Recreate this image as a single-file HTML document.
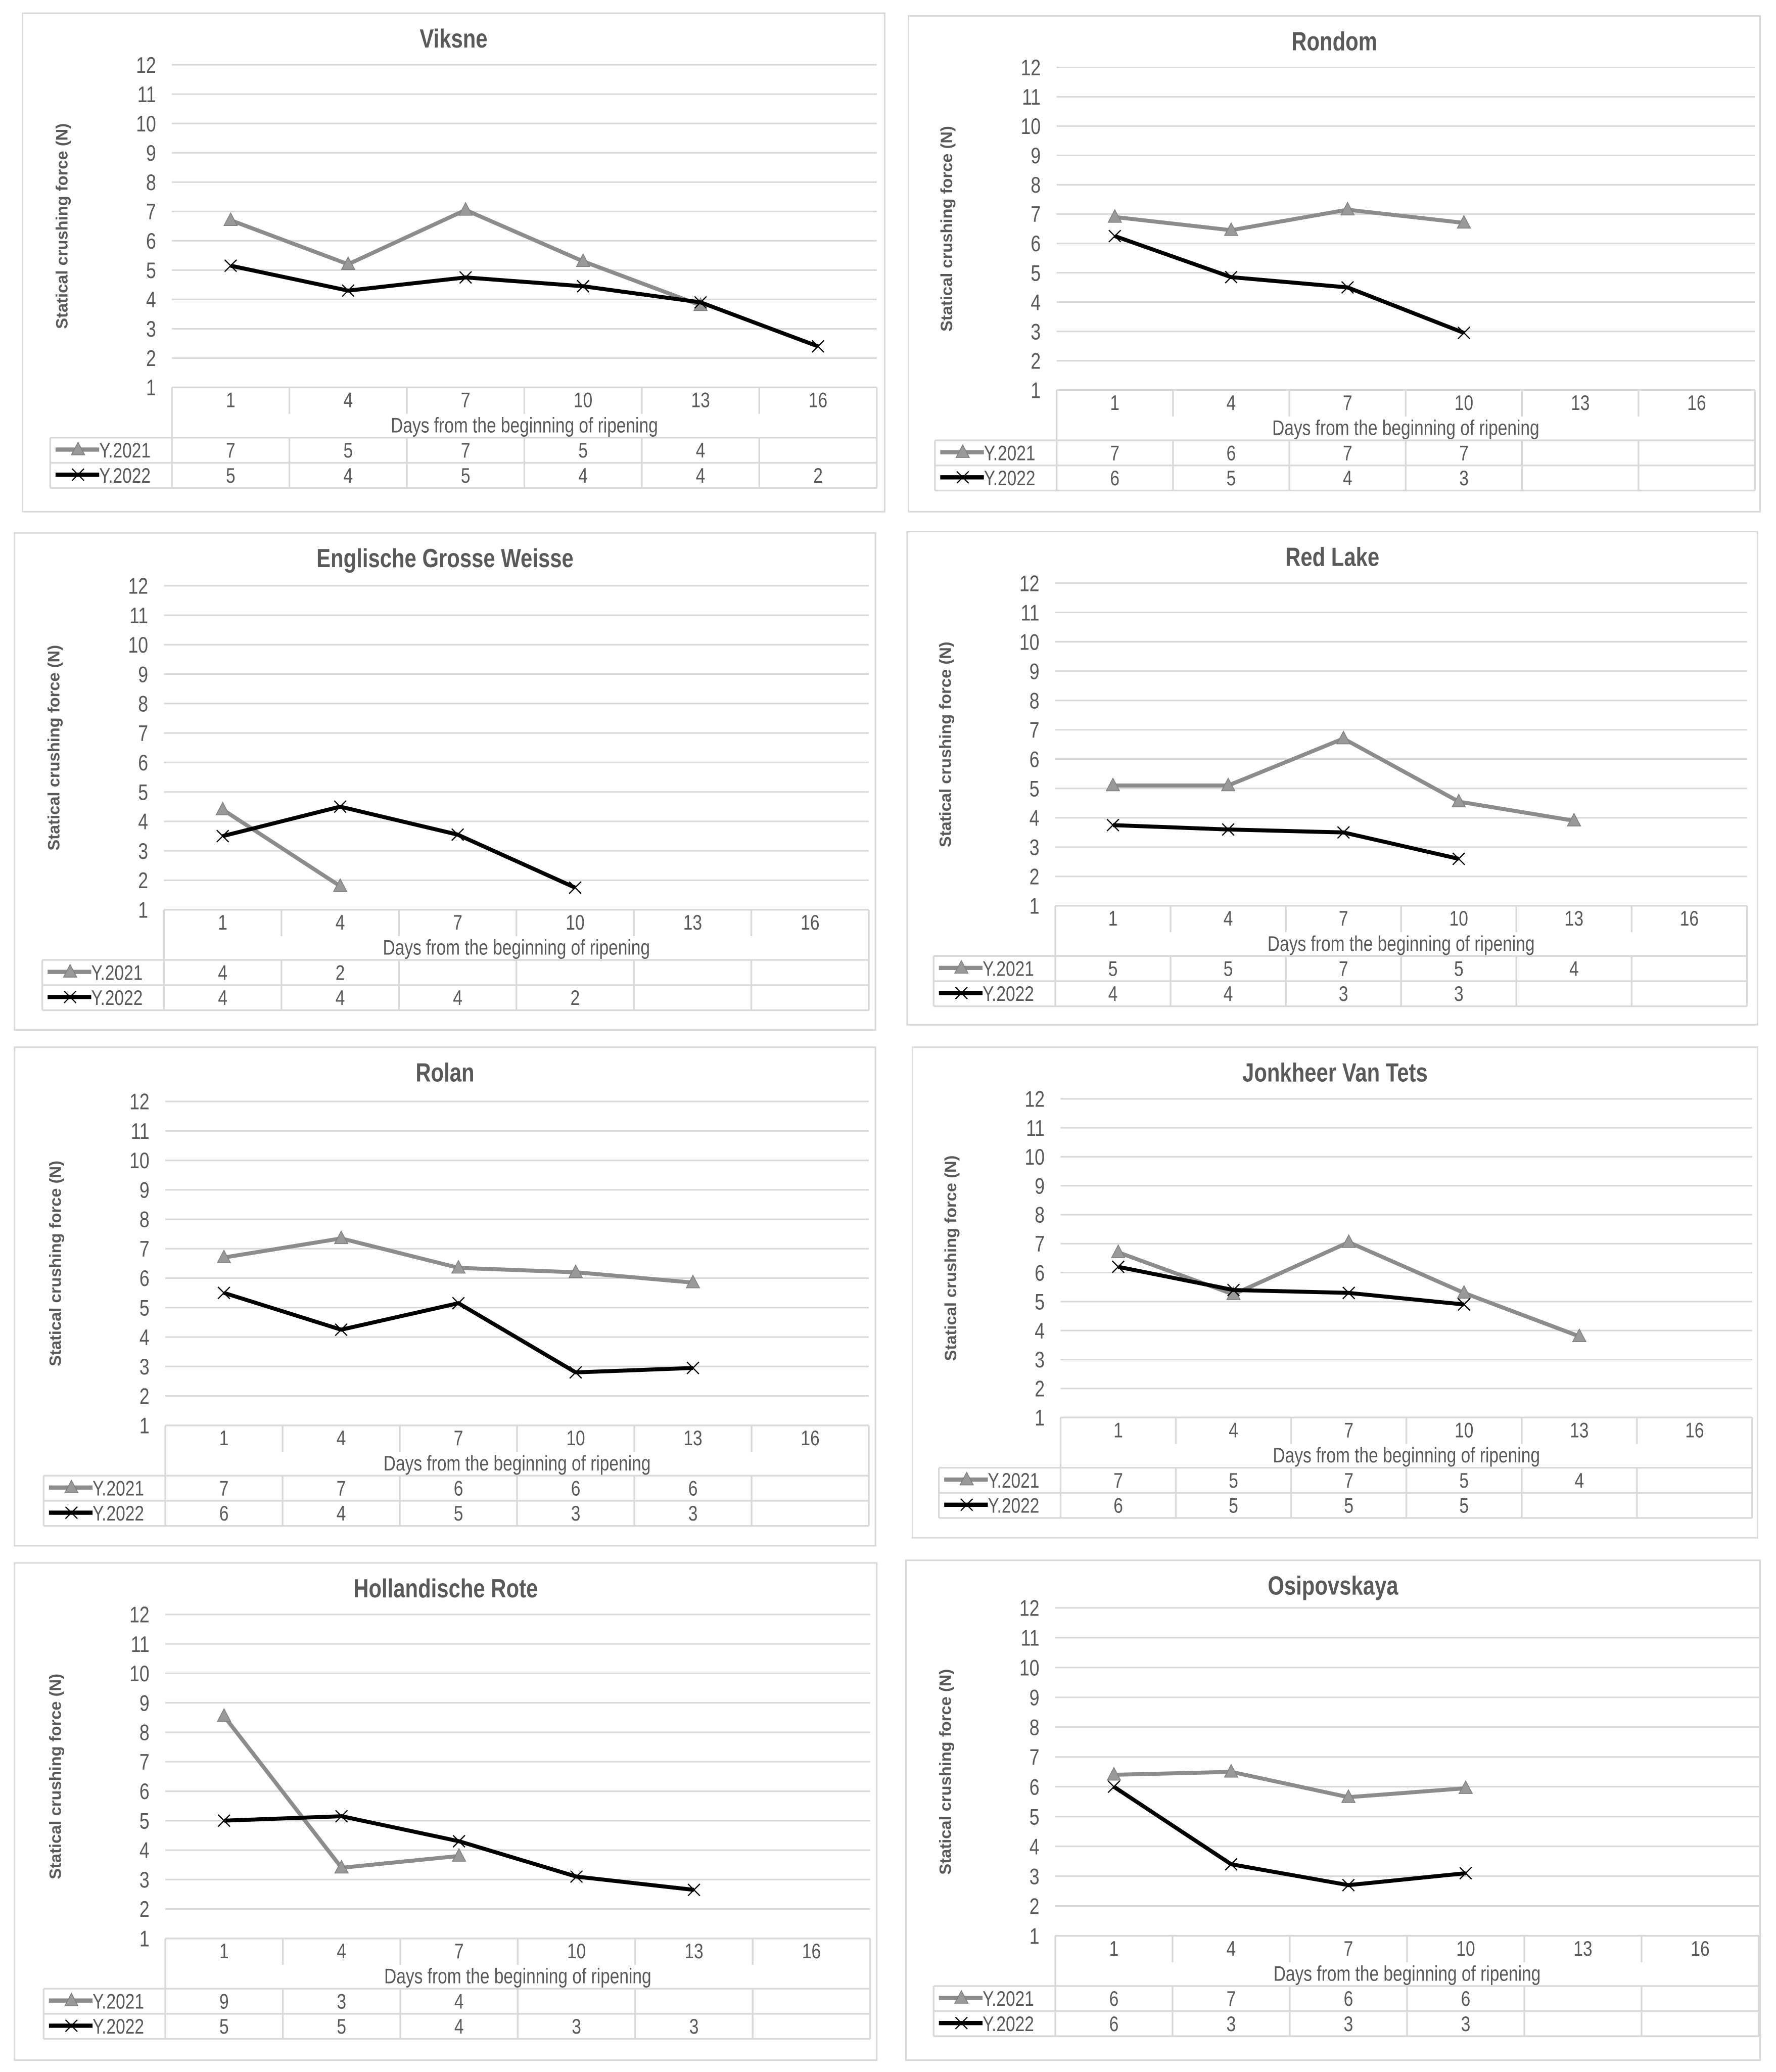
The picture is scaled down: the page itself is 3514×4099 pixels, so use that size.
<!DOCTYPE html>
<html><head><meta charset="utf-8"><style>
html,body{margin:0;padding:0;background:#fff;}
svg{display:block;}
text{font-family:"Liberation Sans",Arial,sans-serif;}
</style></head><body>
<svg id="root" width="3514" height="4099" viewBox="0 0 1343 1567" preserveAspectRatio="none" xmlns="http://www.w3.org/2000/svg"></svg>
<script>
const categories = [1, 4, 7, 10, 13, 16];
const yTicks = [1,2,3,4,5,6,7,8,9,10,11,12];
const titles = ["Viksne","Rondom","Englische Grosse Weisse","Red Lake","Rolan","Jonkheer Van Tets","Hollandische Rote","Osipovskaya"];
const series2021 = [
  [6.7,5.2,7.05,5.3,3.8],
  [6.9,6.45,7.15,6.7],
  [4.4,1.8],
  [5.1,5.1,6.7,4.55,3.9],
  [6.7,7.35,6.35,6.2,5.85],
  [6.7,5.25,7.05,5.3,3.8],
  [8.55,3.4,3.8],
  [6.4,6.5,5.65,5.95]
];
const series2022 = [
  [5.15,4.3,4.75,4.45,3.9,2.4],
  [6.25,4.85,4.5,2.95],
  [3.5,4.5,3.55,1.75],
  [3.75,3.6,3.5,2.6],
  [5.5,4.25,5.15,2.8,2.95],
  [6.2,5.4,5.3,4.9],
  [5.0,5.15,4.3,3.1,2.65],
  [6.0,3.4,2.7,3.1]
];
const table2021 = [[7,5,7,5,4],[7,6,7,7],[4,2],[5,5,7,5,4],[7,7,6,6,6],[7,5,7,5,4],[9,3,4],[6,7,6,6]];
const table2022 = [[5,4,5,4,4,2],[6,5,4,3],[4,4,4,2],[4,4,3,3],[6,4,5,3,3],[6,5,5,5],[5,5,4,3,3],[6,3,3,3]];
const seriesNames = ["Y.2021","Y.2022"];

const L = [
 {fx:17,fy:10,fw:652,fh:377,g12:49,g1:293,pl:130,pr:663},
 {fx:687,fy:12,fw:644,fh:375,g12:51,g1:295,pl:799,pr:1327},
 {fx:11,fy:403,fw:651,fh:376,g12:443,g1:688,pl:124,pr:657},
 {fx:686,fy:402,fw:643,fh:373,g12:441,g1:685,pl:798,pr:1321},
 {fx:11,fy:792,fw:651,fh:377,g12:833,g1:1078,pl:125,pr:657},
 {fx:690,fy:792,fw:639,fh:371,g12:831,g1:1072,pl:802,pr:1325},
 {fx:11,fy:1182,fw:652,fh:376,g12:1221,g1:1466,pl:125,pr:658},
 {fx:685,fy:1180,fw:646,fh:378,g12:1216,g1:1464,pl:798,pr:1330}
];
const NS="http://www.w3.org/2000/svg";
const root=document.getElementById('root');
function mk(tag,attrs,parent,txt){const e=document.createElementNS(NS,tag);for(const k in attrs)e.setAttribute(k,attrs[k]);if(txt!==undefined)e.textContent=txt;parent.appendChild(e);return e;}
function ntext(parent,x,y,s,size,anchor,bold){
  return mk('text',{transform:`translate(${x},${y}) scale(0.8,1)`,x:0,y:0,'text-anchor':anchor||'middle','font-size':size,'font-weight':bold?'bold':'normal',fill:TXT},parent,s);
}
const GRID="#d9d9d9", TXT="#595959", C21="#8c8c8c", C22="#000";

function triangle(g,x,y){mk('polygon',{points:`${x},${y-5.5} ${x-5},${y+4} ${x+5},${y+4}`,fill:'#999',stroke:'#7f7f7f','stroke-width':0.6},g);}
function cross(g,x,y){mk('path',{d:`M${x-4.5},${y-4.5}L${x+4.5},${y+4.5}M${x-4.5},${y+4.5}L${x+4.5},${y-4.5}`,stroke:'#000','stroke-width':0.9,fill:'none'},g);}

L.forEach((p,i)=>{
  const g=mk('g',{},root);
  
  
  const frame=mk('rect',{x:p.fx,y:p.fy,width:p.fw,height:p.fh,fill:'#fff',stroke:'#d9d9d9','stroke-width':1.2},g);
  
  
  const t=ntext(g,p.fx+p.fw/2,p.fy+26,titles[i],20,'middle',true);
  
  
  const step=(p.g1-p.g12)/11;
  const yS=v=>p.g1-(v-1)*step;
  const cw=(p.pr-p.pl)/categories.length;
  const xS=k=>p.pl+cw*(k+0.5);
  yTicks.forEach(v=>{
    if(v>1){const gl=mk('line',{x1:p.pl,x2:p.pr,y1:yS(v),y2:yS(v),stroke:GRID,'stroke-width':1.2},g);
      
      }
    const tl=ntext(g,p.pl-12,yS(v)+6,String(v),17,'end');
    
    
  });
  const yt=mk('text',{transform:`translate(${p.pl-79},${(p.g12+p.g1)/2}) rotate(-90)`,'text-anchor':'middle','font-size':12.5,'font-weight':'bold',fill:TXT},g,'Statical crushing force (N)');
  
  
  const tl0=p.pl-92, r0=p.g1, r1=p.g1+20, r2=p.g1+38, r3=p.g1+57, r4=p.g1+76;
  const ln=(x1,y1,x2,y2)=>mk('line',{x1,y1,x2,y2,stroke:GRID,'stroke-width':1.3},g);
  ln(p.pl,r0,p.pr,r0); ln(tl0,r2,p.pr,r2); ln(tl0,r3,p.pr,r3); ln(tl0,r4,p.pr,r4);
  ln(p.pl,r0,p.pl,r4); ln(p.pr,r0,p.pr,r4); ln(tl0,r2,tl0,r4);
  for(let k=1;k<categories.length;k++){const x=p.pl+cw*k; ln(x,r0,x,r1); ln(x,r2,x,r4);}
  categories.forEach((c,k)=>{
    const ct=ntext(g,xS(k),r0+15,String(c),16);
    
    
  });
  const xt=ntext(g,(p.pl+p.pr)/2,r1+14,'Days from the beginning of ripening',16);
  
  
  [table2021[i],table2022[i]].forEach((vals,s)=>{
    const ry=(s===0?r2:r3)+15;
    const lg=mk('g',{},g);
    
    
    const ly=ry-6;
    mk('line',{x1:tl0+4,x2:tl0+37,y1:ly,y2:ly,stroke:s===0?C21:C22,'stroke-width':3.2},lg);
    if(s===0)triangle(lg,tl0+21,ly); else cross(lg,tl0+21,ly);
    ntext(lg,tl0+37,ry,seriesNames[s],16,'start');
    vals.forEach((v,k)=>{
      const vt=ntext(g,xS(k),ry,String(v),16);
      
      
    });
  });
  [[series2021[i],C21,0],[series2022[i],C22,1]].forEach(([vals,col,s])=>{
    const pts=vals.map((v,k)=>[xS(k),yS(v)]);
    const pl=mk('polyline',{points:pts.map(q=>q.join(',')).join(' '),fill:'none',stroke:col,'stroke-width':3,'stroke-linejoin':'round'},g);
    
    
    pts.forEach(q=>{ if(s===0)triangle(g,q[0],q[1]); else cross(g,q[0],q[1]); });
  });
});
</script>
</body></html>
